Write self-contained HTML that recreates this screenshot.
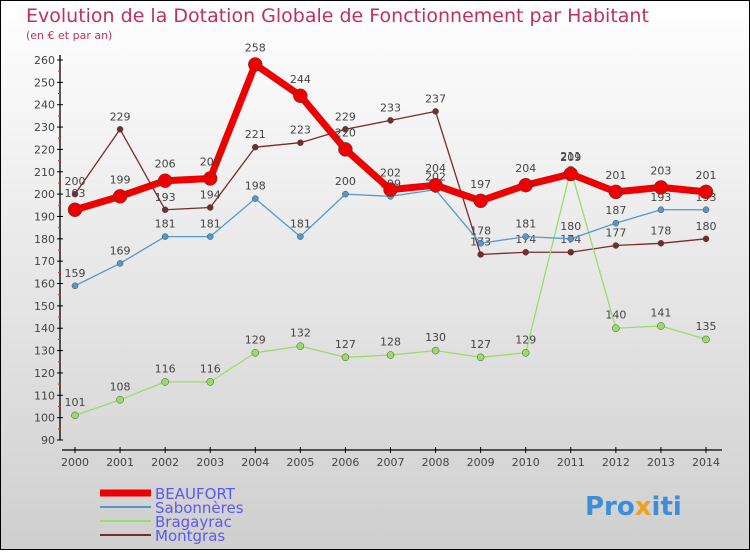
<!DOCTYPE html>
<html><head><meta charset="utf-8"><style>
html,body{margin:0;padding:0}
body{width:750px;height:550px;overflow:hidden;font-family:"DejaVu Sans","Liberation Sans",sans-serif}
</style></head><body>
<svg id="c" width="750" height="550" xmlns="http://www.w3.org/2000/svg">
<defs><linearGradient id="bg" x1="0" y1="0" x2="0" y2="1"><stop offset="0" stop-color="#ffffff"/><stop offset="1" stop-color="#cfcfcf"/></linearGradient></defs>
<rect x="0.5" y="0.5" width="749" height="549" fill="url(#bg)" stroke="#000"/>
<text x="26" y="22" font-size="19" fill="#c0305e">Evolution de la Dotation Globale de Fonctionnement par Habitant</text>
<text x="26" y="39" font-size="11" fill="#c0305e">(en € et par an)</text>
<g id="axes"></g><g id="series"></g><g id="legend"></g>
<text x="585" y="515" font-size="26" font-weight="bold" fill="#3a8fd8">Pro<tspan fill="#f0a020">x</tspan>iti</text>
</svg>
<script>
const years=[2000,2001,2002,2003,2004,2005,2006,2007,2008,2009,2010,2011,2012,2013,2014];
const yTicks=[90,100,110,120,130,140,150,160,170,180,190,200,210,220,230,240,250,260];
const beaufort=[193,199,206,207,258,244,220,202,204,197,204,209,201,203,201];
const sabonneres=[159,169,181,181,198,181,200,199,202,178,181,180,187,193,193];
const bragayrac=[101,108,116,116,129,132,127,128,130,127,129,211,140,141,135];
const montgras=[200,229,193,194,221,223,229,233,237,173,174,174,177,178,180];
const NS="http://www.w3.org/2000/svg";
const X=i=>75+i*(706-75)/(years.length-1);
const Y=v=>440-(v-90)*(380/170);
function mk(t,a,p){const e=document.createElementNS(NS,t);for(const k in a)e.setAttribute(k,a[k]);p.appendChild(e);return e;}
const ax=document.getElementById('axes');
const yl=mk('line',{x1:60,y1:55,x2:60,y2:440,stroke:'#000','stroke-width':1.3},ax);


yTicks.forEach(v=>{
 const y=Y(v);
 mk('line',{x1:57,y1:y,x2:63,y2:y,stroke:'#000'},ax);
 if(v<260) mk('line',{x1:58,y1:Y(v+5),x2:61,y2:Y(v+5),stroke:'#e03030'},ax);
 const t=mk('text',{x:55,y:y+4,'font-size':11,'text-anchor':'end',fill:'#444'},ax);
 t.textContent=v;
 
 
});
const xl=mk('line',{x1:62,y1:450,x2:722,y2:450,stroke:'#000','stroke-width':1.3},ax);


years.forEach((yr,i)=>{
 mk('line',{x1:X(i),y1:447,x2:X(i),y2:453,stroke:'#000'},ax);
 const t=mk('text',{x:X(i),y:466,'font-size':11,'text-anchor':'middle',fill:'#444'},ax);
 t.textContent=yr;
 
 
});
const sg=document.getElementById('series');
const defs=[
 {d:montgras,c:'#7a2a2a',w:1.3,r:3,n:'montgras'},
 {d:bragayrac,c:'#99dd66',w:1.3,r:3.5,n:'bragayrac'},
 {d:sabonneres,c:'#5599cc',w:1.3,r:3,n:'sabonneres'},
 {d:beaufort,c:'#ee0000',w:7,r:7,n:'beaufort'}];
defs.forEach(s=>{
 const g=mk('g',{},sg);
 
 
 const pl=mk('polyline',{points:s.d.map((v,i)=>X(i)+','+Y(v)).join(' '),fill:'none',stroke:s.c,'stroke-width':s.w,'stroke-linejoin':'round'},g);
 
 
 s.d.forEach((v,i)=>{
  const c=mk('circle',{cx:X(i),cy:Y(v),r:s.r,fill:s.c,stroke:'#444','stroke-width':0.5},g);
  
  
  const t=mk('text',{x:X(i),y:Y(v)-(s.r+6),'font-size':11,'text-anchor':'middle',fill:'#444'},g);
  t.textContent=v;
  
  
 });
});
const lg=document.getElementById('legend');
const leg=[['BEAUFORT','#ee0000',7],['Sabonnères','#5599cc',2],['Bragayrac','#99dd66',2],['Montgras','#7a2a2a',2]];
leg.forEach((l,i)=>{
 const y=493+i*14;
 const g=mk('g',{},lg);
 
 
 mk('line',{x1:100,y1:y,x2:151,y2:y,stroke:l[1],'stroke-width':l[2]},g);
 const t=mk('text',{x:155,y:y+6,'font-size':15,fill:'#5a5aee'},g);
 t.textContent=l[0];
});
</script>
</body></html>
